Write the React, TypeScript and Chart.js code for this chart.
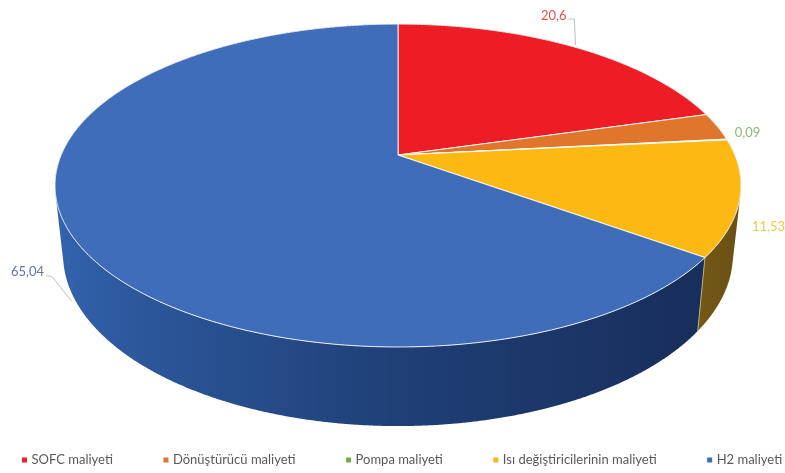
import React, { useEffect, useRef } from "react";
import { Chart, registerables } from "chart.js";

Chart.register(...registerables);

const categories = [
  "SOFC maliyeti",
  "Dönüştürücü maliyeti",
  "Pompa maliyeti",
  "Isı değiştiricilerinin maliyeti",
  "H2 maliyeti",
];
const costShares = [20.6, 2.74, 0.09, 11.53, 65.04];
const sliceColors = ["#ee1c25", "#e0762b", "#70ad47", "#fdb913", "#3f6dba"];
const labelColors = ["#e0524f", "", "#8fb87a", "#ecc94a", "#63749f"];
const labelledSeries = [true, false, true, true, true];

const FONT = "Lato, 'Open Sans', sans-serif";

// Perspective of the disc: each rim is a projected circle.
const topRim = { cx: 398, cy: 155, a: 336.8, b: 155.7, k: 0.189 };
const bottomRim = { cx: 398, cy: 222, a: 328.9, b: 165.5, k: 0.189 };

type Rim = typeof topRim;

function project(angle: number, rim: Rim) {
  const x = Math.cos(angle);
  const y = -Math.sin(angle);
  const w = 1 + rim.k * y;
  return { x: rim.cx + (rim.a * x) / w, y: rim.cy - (rim.b * y) / w };
}

function traceRim(ctx: CanvasRenderingContext2D, rim: Rim, from: number, to: number) {
  const steps = Math.max(2, Math.ceil(Math.abs(to - from) / 0.005));
  for (let i = 0; i <= steps; i++) {
    const p = project(from + ((to - from) * i) / steps, rim);
    ctx.lineTo(p.x, p.y);
  }
}

// Where each value label starts, relative to the middle of its slice's outer rim.
const labelPlacement: Record<number, { dx: number; dy: number; leader?: [number, number][] }> = {
  0: { dx: -33.5, dy: -31, leader: [[-6, -28], [0, -28], [1, -2]] },
  2: { dx: 8, dy: -7 },
  3: { dx: 12, dy: 29 },
  4: { dx: -59, dy: 39, leader: [[-24, 43], [-18, 44], [2, 69]] },
};

const legendLayout = { startX: 22, y: 460, marker: 5, markerGap: 4.5, itemGap: 50.5 };

function wallFill(ctx: CanvasRenderingContext2D, index: number) {
  const grad = ctx.createLinearGradient(55, 0, 741, 0);
  if (index === 4) {
    grad.addColorStop(0, "#3263ad");
    grad.addColorStop(0.14, "#2b5699");
    grad.addColorStop(0.5, "#1f3f76");
    grad.addColorStop(1, "#172c58");
  } else if (index === 3) {
    grad.addColorStop(0.9, "#7a5c14");
    grad.addColorStop(1, "#6a5016");
  } else {
    grad.addColorStop(0, "#555");
    grad.addColorStop(1, "#555");
  }
  return grad;
}

const discPlugin = {
  id: "perspectiveDisc",
  beforeDatasetsDraw(chart: any) {
    const { ctx } = chart;
    const arcs = chart.getDatasetMeta(0).data as any[];

    // Side wall first; the top face covers what lies behind it. Facets share one
    // path and one winding so they fill as a single seamless shape.
    arcs.forEach((arc, i) => {
      const steps = Math.max(1, Math.ceil((arc.endAngle - arc.startAngle) / 0.004));
      ctx.beginPath();
      for (let n = 0; n < steps; n++) {
        const a0 = arc.startAngle + ((arc.endAngle - arc.startAngle) * n) / steps;
        const a1 = arc.startAngle + ((arc.endAngle - arc.startAngle) * (n + 1)) / steps;
        const quad = [project(a0, topRim), project(a1, topRim), project(a1, bottomRim), project(a0, bottomRim)];
        let area = 0;
        quad.forEach((p, q) => {
          const r = quad[(q + 1) % 4];
          area += p.x * r.y - r.x * p.y;
        });
        if (area < 0) quad.reverse();
        quad.forEach((p, q) => (q === 0 ? ctx.moveTo(p.x, p.y) : ctx.lineTo(p.x, p.y)));
        ctx.closePath();
      }
      ctx.fillStyle = wallFill(ctx, i);
      ctx.fill("nonzero");
    });

    // Highlight on the wall edge between the yellow and blue slices.
    const s = project(arcs[4].startAngle, topRim);
    const e = project(arcs[4].startAngle, bottomRim);
    ctx.beginPath();
    ctx.moveTo(s.x, s.y);
    ctx.lineTo(e.x, e.y);
    ctx.strokeStyle = "#b8ad7c";
    ctx.lineWidth = 1;
    ctx.stroke();

    // Top face of each slice.
    arcs.forEach((arc, i) => {
      ctx.beginPath();
      ctx.moveTo(topRim.cx, topRim.cy);
      traceRim(ctx, topRim, arc.startAngle, arc.endAngle);
      ctx.closePath();
      ctx.fillStyle = sliceColors[i];
      ctx.fill();
      ctx.strokeStyle = "rgba(255,255,255,0.9)";
      ctx.lineWidth = 1;
      ctx.lineJoin = "round";
      ctx.stroke();
    });

    // Value labels and their leader lines.
    ctx.font = `13px ${FONT}`;
    ctx.textBaseline = "middle";
    ctx.textAlign = "left";
    arcs.forEach((arc, i) => {
      if (!labelledSeries[i]) return;
      const place = labelPlacement[i];
      const mid = project((arc.startAngle + arc.endAngle) / 2, topRim);
      if (place.leader) {
        ctx.beginPath();
        place.leader.forEach(([dx, dy], n) => {
          if (n === 0) ctx.moveTo(mid.x + dx, mid.y + dy);
          else ctx.lineTo(mid.x + dx, mid.y + dy);
        });
        ctx.strokeStyle = "#bfbfbf";
        ctx.lineWidth = 1;
        ctx.stroke();
      }
      ctx.fillStyle = labelColors[i];
      ctx.fillText(String(costShares[i]).replace(".", ","), mid.x + place.dx, mid.y + place.dy);
    });

    // Legend row along the bottom edge.
    ctx.font = `13px ${FONT}`;
    let x = legendLayout.startX;
    categories.forEach((name, i) => {
      ctx.fillStyle = sliceColors[i];
      ctx.fillRect(x, legendLayout.y - legendLayout.marker / 2, legendLayout.marker, legendLayout.marker);
      x += legendLayout.marker + legendLayout.markerGap;
      ctx.fillStyle = "#595959";
      ctx.fillText(name, x, legendLayout.y);
      x += ctx.measureText(name).width + legendLayout.itemGap;
    });

    return false;
  },
};

export default function App() {
  const canvasRef = useRef<HTMLCanvasElement | null>(null);

  useEffect(() => {
    if (!canvasRef.current) return;
    const chart = new Chart(canvasRef.current, {
      type: "pie",
      data: {
        labels: categories,
        datasets: [{ data: costShares, backgroundColor: sliceColors, borderWidth: 0 }],
      },
      options: {
        responsive: false,
        animation: false,
        events: [],
        plugins: {
          tooltip: { enabled: false },
          legend: { display: false },
        },
      },
      plugins: [discPlugin],
    });
    return () => chart.destroy();
  }, []);

  return (
    <div style={{ position: "absolute", left: 0, top: 0, width: 785, height: 473, background: "#fff" }}>
      <canvas ref={canvasRef} width={785} height={473} style={{ display: "block" }} />
    </div>
  );
}
